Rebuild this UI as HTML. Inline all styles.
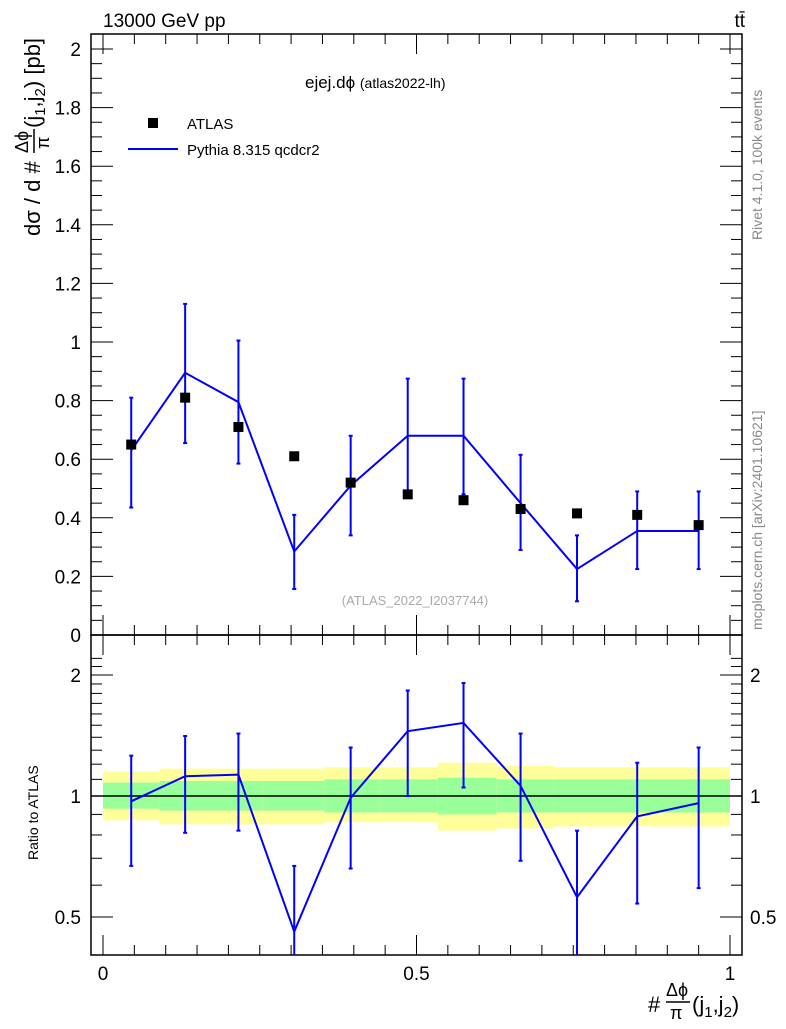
<!DOCTYPE html>
<html><head><meta charset="utf-8"><style>
body{margin:0;background:#fff;}
svg text{font-family:"Liberation Sans",sans-serif;}
</style></head><body>
<svg id="c" width="786" height="1024" xmlns="http://www.w3.org/2000/svg">
<text x="103" y="27" font-size="19">13000 GeV pp</text>
<text x="745" y="27" font-size="19" text-anchor="end">tt̄</text>
<text x="305" y="88" font-size="17">ejej.dϕ <tspan font-size="14">(atlas2022-lh)</tspan></text>
<text transform="translate(762,240) rotate(-90)" font-size="14" fill="#888">Rivet 4.1.0,  100k events</text>
<text transform="translate(762,630) rotate(-90)" font-size="14" fill="#888">mcplots.cern.ch [arXiv:2401.10621]</text>
<text x="415" y="605" font-size="13" fill="#aaa" text-anchor="middle">(ATLAS_2022_I2037744)</text>
<g transform="translate(40,236) rotate(-90)">
<text x="0" y="0" font-size="22">dσ / d #</text>
<text x="83" y="-12" font-size="18">Δϕ</text>
<line x1="83" x2="107" y1="-6" y2="-6" stroke="#000" stroke-width="1.5"/>
<text x="87" y="9" font-size="18">π</text>
<text x="108" y="0" font-size="22">(j<tspan font-size="15" dy="5">1</tspan><tspan dy="-5">,j</tspan><tspan font-size="15" dy="5">2</tspan><tspan dy="-5">) [pb]</tspan></text>
</g>
<text transform="translate(38,860) rotate(-90)" font-size="14">Ratio to ATLAS</text>
<g>
<text x="648" y="1012" font-size="22">#</text>
<text x="666" y="996" font-size="18">Δϕ</text>
<line x1="666" x2="690" y1="1002" y2="1002" stroke="#000" stroke-width="1.5"/>
<text x="670" y="1019" font-size="18">π</text>
<text x="692" y="1012" font-size="22">(j<tspan font-size="15" dy="5">1</tspan><tspan dy="-5">,j</tspan><tspan font-size="15" dy="5">2</tspan><tspan dy="-5">)</tspan></text>
</g>
<g>
<rect x="148" y="118" width="10" height="10" fill="#000"/>
<text x="187" y="129" font-size="15">ATLAS</text>
<line x1="128" y1="149" x2="178" y2="149" stroke="#00f" stroke-width="2"/>
<text x="187" y="155" font-size="15">Pythia 8.315 qcdcr2</text>
</g>
<g id="g"></g>
</svg>
<script>
const xCenters=[0.045,0.131,0.216,0.305,0.395,0.486,0.575,0.666,0.756,0.852,0.95];
const dataVals=[0.65,0.81,0.71,0.61,0.52,0.48,0.46,0.43,0.415,0.41,0.375];
const mcVals=[0.63,0.895,0.795,0.285,0.51,0.68,0.68,0.45,0.225,0.355,0.355];
const mcHi=[0.81,1.13,1.005,0.41,0.68,0.875,0.875,0.615,0.34,0.49,0.49];
const mcLo=[0.435,0.655,0.585,0.157,0.34,0.48,0.48,0.29,0.115,0.225,0.225];
const ratioVals=[0.97,1.12,1.13,0.46,0.99,1.45,1.52,1.06,0.56,0.89,0.96];
const ratioHi=[1.26,1.41,1.43,0.67,1.32,1.83,1.91,1.43,0.82,1.21,1.32];
const ratioLo=[0.67,0.81,0.82,0.40,0.66,1.0,1.05,0.69,0.40,0.54,0.59];
const bandEdges=[0,0.09,0.254,0.353,0.443,0.534,0.628,0.718,1.0];
const yellowHi=[1.15,1.17,1.17,1.18,1.18,1.21,1.19,1.18];
const yellowLo=[0.87,0.85,0.85,0.86,0.86,0.82,0.83,0.84];
const greenHi=[1.08,1.09,1.09,1.10,1.10,1.11,1.10,1.10];
const greenLo=[0.93,0.92,0.92,0.91,0.91,0.90,0.91,0.91];
const mainTicks=["0","0.2","0.4","0.6","0.8","1","1.2","1.4","1.6","1.8","2"];
const ratioTicks=[0.5,1,2];
const xTicks=[0,0.5,1];

const L=91,R=742,T=34,M=635,B=955;
const X=v=>103+v*627;
const Y=v=>635-v*293;
const RY=r=>796-121*Math.log2(r);
const g=document.getElementById('g');
const NS='http://www.w3.org/2000/svg';
function el(t,a){const e=document.createElementNS(NS,t);for(const k in a)e.setAttribute(k,a[k]);g.appendChild(e);return e;}

for(let i=0;i<bandEdges.length-1;i++){
 const x1=X(bandEdges[i]),x2=X(bandEdges[i+1]);
 const y=el('rect',{x:x1,y:RY(yellowHi[i]),width:x2-x1,height:RY(yellowLo[i])-RY(yellowHi[i]),fill:'#ffff99'});
 
 
 const gr=el('rect',{x:x1,y:RY(greenHi[i]),width:x2-x1,height:RY(greenLo[i])-RY(greenHi[i]),fill:'#99ff99'});
 
 
}
const one=el('line',{x1:L,x2:R,y1:RY(1),y2:RY(1),stroke:'#000','stroke-width':1.5});



const f1=el('rect',{x:L,y:T,width:R-L,height:M-T,fill:'none',stroke:'#000','stroke-width':1.5});


const f2=el('rect',{x:L,y:M,width:R-L,height:B-M,fill:'none',stroke:'#000','stroke-width':1.5});



mainTicks.forEach((t,i)=>{const v=i*0.2,y=Y(v);
 el('line',{x1:L,x2:L+22,y1:y,y2:y,stroke:'#000'});el('line',{x1:R-22,x2:R,y1:y,y2:y,stroke:'#000'});
 for(let k=1;k<4&&i<10;k++){const ym=Y(v+k*0.05);el('line',{x1:L,x2:L+11,y1:ym,y2:ym,stroke:'#000'});el('line',{x1:R-11,x2:R,y1:ym,y2:ym,stroke:'#000'});}
 const tx=el('text',{x:L-10,y:y+7,'font-size':19,'text-anchor':'end'});tx.textContent=t;
 
 
});
ratioTicks.forEach(r=>{const y=RY(r);
 el('line',{x1:L,x2:L+22,y1:y,y2:y,stroke:'#000'});el('line',{x1:R-22,x2:R,y1:y,y2:y,stroke:'#000'});
 const tx=el('text',{x:L-10,y:y+7,'font-size':19,'text-anchor':'end'});tx.textContent=String(r);
 
 
 const tx2=el('text',{x:R+8,y:y+7,'font-size':19});tx2.textContent=String(r);
 
 
});
[0.4,0.6,0.7,0.8,0.9,1.1,1.2,1.3,1.4,1.5,1.6,1.7,1.8,1.9,2.1,2.2].forEach(r=>{const y=RY(r);if(y<M||y>B)return;
 el('line',{x1:L,x2:L+11,y1:y,y2:y,stroke:'#000'});el('line',{x1:R-11,x2:R,y1:y,y2:y,stroke:'#000'});});
for(let k=0;k<=20;k++){const v=k*0.05,x=X(v),len=k%10==0?20:10;
 el('line',{x1:x,x2:x,y1:B,y2:B-len,stroke:'#000'});el('line',{x1:x,x2:x,y1:M,y2:M-len,stroke:'#000'});
 el('line',{x1:x,x2:x,y1:M,y2:M+len,stroke:'#000'});el('line',{x1:x,x2:x,y1:T,y2:T+len,stroke:'#000'});}
xTicks.forEach(v=>{const tx=el('text',{x:X(v),y:980,'font-size':19,'text-anchor':'middle'});tx.textContent=String(v);
 
 });

xCenters.forEach((c,i)=>{const x=X(c);
 const e=el('line',{x1:x,x2:x,y1:Y(mcHi[i]),y2:Y(mcLo[i]),stroke:'#00f','stroke-width':2});
 
 
 [mcHi[i],mcLo[i]].forEach(v=>el('line',{x1:x-2,x2:x+2,y1:Y(v),y2:Y(v),stroke:'#00f','stroke-width':2}));
});
const pl=el('polyline',{points:xCenters.map((c,i)=>X(c)+','+Y(mcVals[i])).join(' '),fill:'none',stroke:'#00f','stroke-width':2});


xCenters.forEach((c,i)=>{const m=el('rect',{x:X(c)-5,y:Y(dataVals[i])-5,width:10,height:10,fill:'#000'});
 
 });

const clip=v=>Math.max(M,Math.min(B,v));
xCenters.forEach((c,i)=>{const x=X(c);
 const e=el('line',{x1:x,x2:x,y1:clip(RY(ratioHi[i])),y2:clip(RY(ratioLo[i])),stroke:'#00f','stroke-width':2});
 
 
 [ratioHi[i],ratioLo[i]].forEach(v=>{const y=RY(v);if(y<B)el('line',{x1:x-2,x2:x+2,y1:y,y2:y,stroke:'#00f','stroke-width':2});});
});
const rl=el('polyline',{points:xCenters.map((c,i)=>X(c)+','+RY(ratioVals[i])).join(' '),fill:'none',stroke:'#00f','stroke-width':2});


</script>
</body></html>
